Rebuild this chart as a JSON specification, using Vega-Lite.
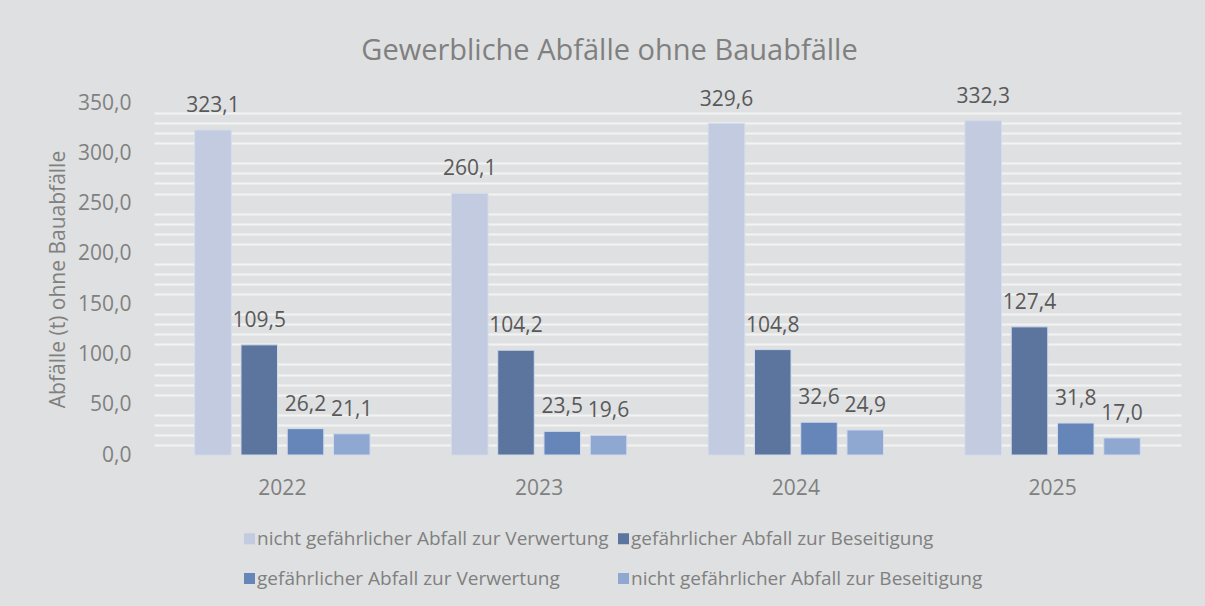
{
  "$schema": "https://vega.github.io/schema/vega-lite/v6.json",
  "width": 1027,
  "height": 352,
  "autosize": {"type": "none"},
  "padding": {"left": 154, "top": 103, "right": 24, "bottom": 151},
  "background": "#dfe0e1",
  "config": {
    "locale": {"number": {"decimal": ",", "thousands": ".", "grouping": [3], "currency": ["", " €"]}},
    "view": {"stroke": null},
    "font": "Open Sans"
  },
  "title": {
    "text": "Gewerbliche Abfälle ohne Bauabfälle",
    "fontSize": 29,
    "fontWeight": "normal",
    "color": "#808080",
    "anchor": "middle",
    "dx": -58,
    "offset": 20
  },
  "data": {
    "values": [
      {"Jahr": "2022", "Art": "nicht gefährlicher Abfall zur Verwertung", "Wert": 323.1},
      {"Jahr": "2022", "Art": "gefährlicher Abfall zur Beseitigung", "Wert": 109.5},
      {"Jahr": "2022", "Art": "gefährlicher Abfall zur Verwertung", "Wert": 26.2},
      {"Jahr": "2022", "Art": "nicht gefährlicher Abfall zur Beseitigung", "Wert": 21.1},
      {"Jahr": "2023", "Art": "nicht gefährlicher Abfall zur Verwertung", "Wert": 260.1},
      {"Jahr": "2023", "Art": "gefährlicher Abfall zur Beseitigung", "Wert": 104.2},
      {"Jahr": "2023", "Art": "gefährlicher Abfall zur Verwertung", "Wert": 23.5},
      {"Jahr": "2023", "Art": "nicht gefährlicher Abfall zur Beseitigung", "Wert": 19.6},
      {"Jahr": "2024", "Art": "nicht gefährlicher Abfall zur Verwertung", "Wert": 329.6},
      {"Jahr": "2024", "Art": "gefährlicher Abfall zur Beseitigung", "Wert": 104.8},
      {"Jahr": "2024", "Art": "gefährlicher Abfall zur Verwertung", "Wert": 32.6},
      {"Jahr": "2024", "Art": "nicht gefährlicher Abfall zur Beseitigung", "Wert": 24.9},
      {"Jahr": "2025", "Art": "nicht gefährlicher Abfall zur Verwertung", "Wert": 332.3},
      {"Jahr": "2025", "Art": "gefährlicher Abfall zur Beseitigung", "Wert": 127.4},
      {"Jahr": "2025", "Art": "gefährlicher Abfall zur Verwertung", "Wert": 31.8},
      {"Jahr": "2025", "Art": "nicht gefährlicher Abfall zur Beseitigung", "Wert": 17.0}
    ]
  },
  "encoding": {
    "x": {
      "field": "Jahr",
      "type": "nominal",
      "scale": {"paddingInner": 0, "paddingOuter": 0},
      "axis": {
        "title": null,
        "labelAngle": 0,
        "ticks": false,
        "domain": false,
        "grid": false,
        "labelFontSize": 21,
        "labelColor": "#808080",
        "labelPadding": 22
      }
    },
    "xOffset": {
      "field": "Art",
      "type": "nominal",
      "sort": [
        "nicht gefährlicher Abfall zur Verwertung",
        "gefährlicher Abfall zur Beseitigung",
        "gefährlicher Abfall zur Verwertung",
        "nicht gefährlicher Abfall zur Beseitigung"
      ],
      "scale": {"paddingInner": 0.21, "paddingOuter": 0.88}
    },
    "y": {
      "field": "Wert",
      "type": "quantitative",
      "scale": {"domain": [0, 350], "nice": false},
      "axis": {
        "values": [0, 10, 20, 30, 40, 50, 60, 70, 80, 90, 100, 110, 120, 130, 140, 150, 160, 170, 180, 190, 200, 210, 220, 230, 240, 250, 260, 270, 280, 290, 300, 310, 320, 330, 340, 350],
        "format": ".1f",
        "labelExpr": "datum.value % 50 === 0 ? datum.label : ''",
        "labelOverlap": false,
        "gridColor": "#f3f3f3",
        "gridWidth": 2,
        "gridOpacity": {"condition": {"test": "datum.value % 50 === 0", "value": 0}, "value": 1},
        "ticks": false,
        "domain": false,
        "labelFontSize": 21,
        "labelColor": "#808080",
        "labelPadding": 23,
        "title": "Abfälle (t) ohne Bauabfälle",
        "titleFontSize": 21,
        "titleFontWeight": "normal",
        "titleColor": "#808080",
        "titlePadding": 9
      }
    }
  },
  "layer": [
    {
      "mark": {"type": "bar", "stroke": "#d3dbec", "strokeWidth": 1},
      "encoding": {
        "color": {
          "field": "Art",
          "type": "nominal",
          "scale": {
            "domain": [
              "nicht gefährlicher Abfall zur Verwertung",
              "gefährlicher Abfall zur Beseitigung",
              "gefährlicher Abfall zur Verwertung",
              "nicht gefährlicher Abfall zur Beseitigung"
            ],
            "range": ["#c2cbe0", "#5b759e", "#6686ba", "#8fa8d1"]
          },
          "legend": {
            "orient": "none",
            "legendX": 86,
            "legendY": 426,
            "direction": "horizontal",
            "columns": 2,
            "title": null,
            "symbolType": "square",
            "symbolSize": 121,
            "symbolStrokeWidth": 0,
            "labelFontSize": 19,
            "labelColor": "#808080",
            "labelOffset": -2,
            "labelLimit": 0,
            "rowPadding": 20,
            "columnPadding": 5
          }
        }
      }
    },
    {
      "mark": {"type": "text", "baseline": "bottom", "dy": -14, "fontSize": 21, "color": "#595959"},
      "encoding": {
        "text": {"field": "Wert", "type": "quantitative", "format": ".1f"}
      }
    }
  ]
}
